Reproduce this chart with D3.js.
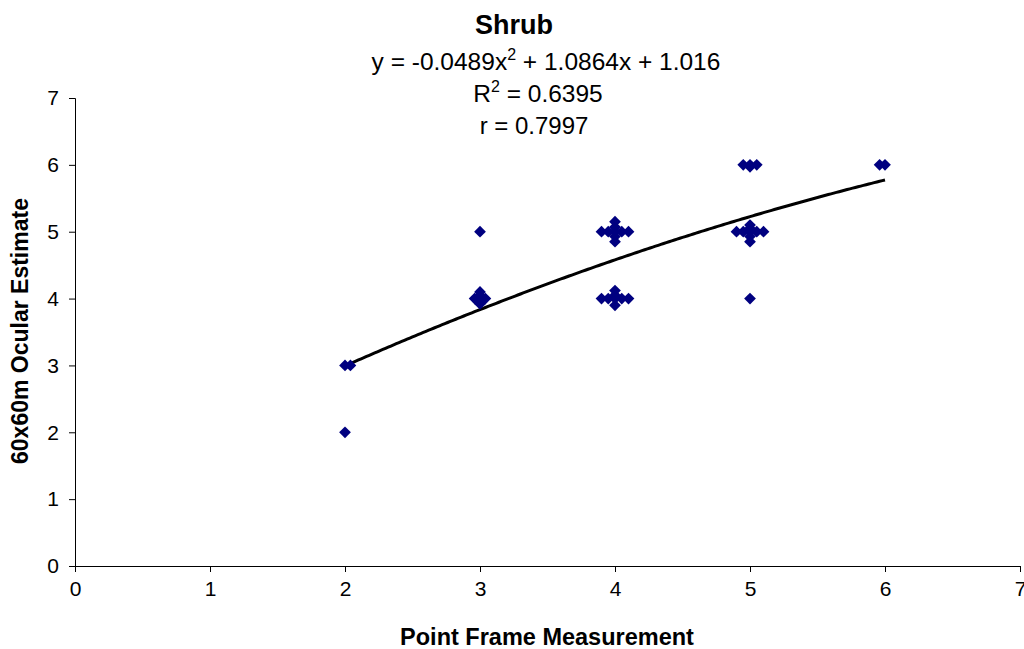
<!DOCTYPE html>
<html>
<head>
<meta charset="utf-8">
<script src="https://cdn.jsdelivr.net/npm/d3@7"></script>
<style>
  html, body { margin: 0; padding: 0; background: #fff; }
  svg { display: block; font-family: "Liberation Sans", Arial, sans-serif; }
</style>
</head>
<body>
<svg id="chart" width="1024" height="649"></svg>
<script>
// Point frame measurement (x) vs 60x60m ocular estimate (y), shrub cover classes
const pointFrame = [2, 2, 2.04,
  3, 2.96, 3.04, 3, 3, 3, 3,
  3.9, 3.95, 4, 4.05, 4.1, 4, 4, 4, 4,
  3.9, 3.95, 4, 4.05, 4.1, 4, 4, 4,
  4.95, 5, 5.05, 5,
  4.9, 4.95, 5, 5.05, 5.1, 5, 5, 5, 5,
  5,
  5.96, 6];
const ocular = [2, 3, 3,
  5, 4, 4, 4, 4.1, 4.05, 3.92,
  5, 5, 5, 5, 5, 5.15, 5.07, 4.93, 4.85,
  4, 4, 4, 4, 4, 4.12, 4.05, 3.9,
  6, 6, 6, 5.97,
  5, 5, 5, 5, 5, 5.1, 5.05, 4.93, 4.85,
  4,
  6, 6];

// Polynomial (order 2) trendline coefficients
const coefA = -0.0489, coefB = 1.0864, coefC = 1.016;
const rSquared = "0.6395", rValue = "0.7997";

const xTicks = [0, 1, 2, 3, 4, 5, 6, 7];
const yTicks = [0, 1, 2, 3, 4, 5, 6, 7];

const svg = d3.select("#chart");
const x = d3.scaleLinear().domain([0, 7]).range([75, 1020]);
const y = d3.scaleLinear().domain([0, 7]).range([566, 98]);

// Axes
const xAxis = svg.append("g").attr("transform", `translate(0,${y(0)})`)
  .call(d3.axisBottom(x).tickValues(xTicks).tickSize(6).tickPadding(9).tickFormat(d3.format("d")));
const yAxis = svg.append("g").attr("transform", `translate(${x(0)},0)`)
  .call(d3.axisLeft(y).tickValues(yTicks).tickSize(6).tickPadding(10).tickFormat(d3.format("d")));
[xAxis, yAxis].forEach(g => {
  g.select(".domain").attr("stroke", "#000").attr("stroke-width", 1);
  g.selectAll(".tick line").attr("stroke", "#000");
  g.selectAll(".tick text").attr("fill", "#000").style("font-size", "21px")
    .style("font-family", "'Liberation Sans', Arial, sans-serif");
});

// Trendline curve
const fit = v => coefA * v * v + coefB * v + coefC;
const xs = d3.range(2, 6.0001, 0.02);
svg.append("path")
  .datum(xs)
  .attr("fill", "none")
  .attr("stroke", "#000")
  .attr("stroke-width", 3)
  .attr("d", d3.line().x(d => x(d)).y(d => y(fit(d))));

// Diamond markers
const diamond = d3.symbol().type(d3.symbolDiamond2).size(88);
svg.append("g").selectAll("path")
  .data(pointFrame.map((v, i) => [v, ocular[i]]))
  .join("path")
  .attr("transform", d => `translate(${x(d[0])},${y(d[1])})`)
  .attr("d", diamond)
  .attr("fill", "#000080");

// Title
svg.append("text").attr("x", 514).attr("y", 34).attr("text-anchor", "middle")
  .style("font-size", "27px").style("font-weight", "bold").text("Shrub");

// Trendline equation block
const eq = svg.append("text").attr("x", 546).attr("y", 70).attr("text-anchor", "middle")
  .style("font-size", "24.5px");
eq.append("tspan").text(`y = ${coefA}x`);
eq.append("tspan").attr("dy", -10).style("font-size", "16px").text("2");
eq.append("tspan").attr("dy", 10).text(` + ${coefB}x + ${coefC}`);

const r2 = svg.append("text").attr("x", 538).attr("y", 102).attr("text-anchor", "middle")
  .style("font-size", "24.5px");
r2.append("tspan").text("R");
r2.append("tspan").attr("dy", -10).style("font-size", "16px").text("2");
r2.append("tspan").attr("dy", 10).text(` = ${rSquared}`);

svg.append("text").attr("x", 534).attr("y", 134).attr("text-anchor", "middle")
  .style("font-size", "24px").text(`r = ${rValue}`);

// Axis titles
svg.append("text").attr("x", 547).attr("y", 645).attr("text-anchor", "middle")
  .style("font-size", "23.5px").style("font-weight", "bold").text("Point Frame Measurement");
svg.append("text").attr("transform", "translate(28,331) rotate(-90)").attr("text-anchor", "middle")
  .style("font-size", "23px").style("font-weight", "bold").text("60x60m Ocular Estimate");
</script>
</body>
</html>
